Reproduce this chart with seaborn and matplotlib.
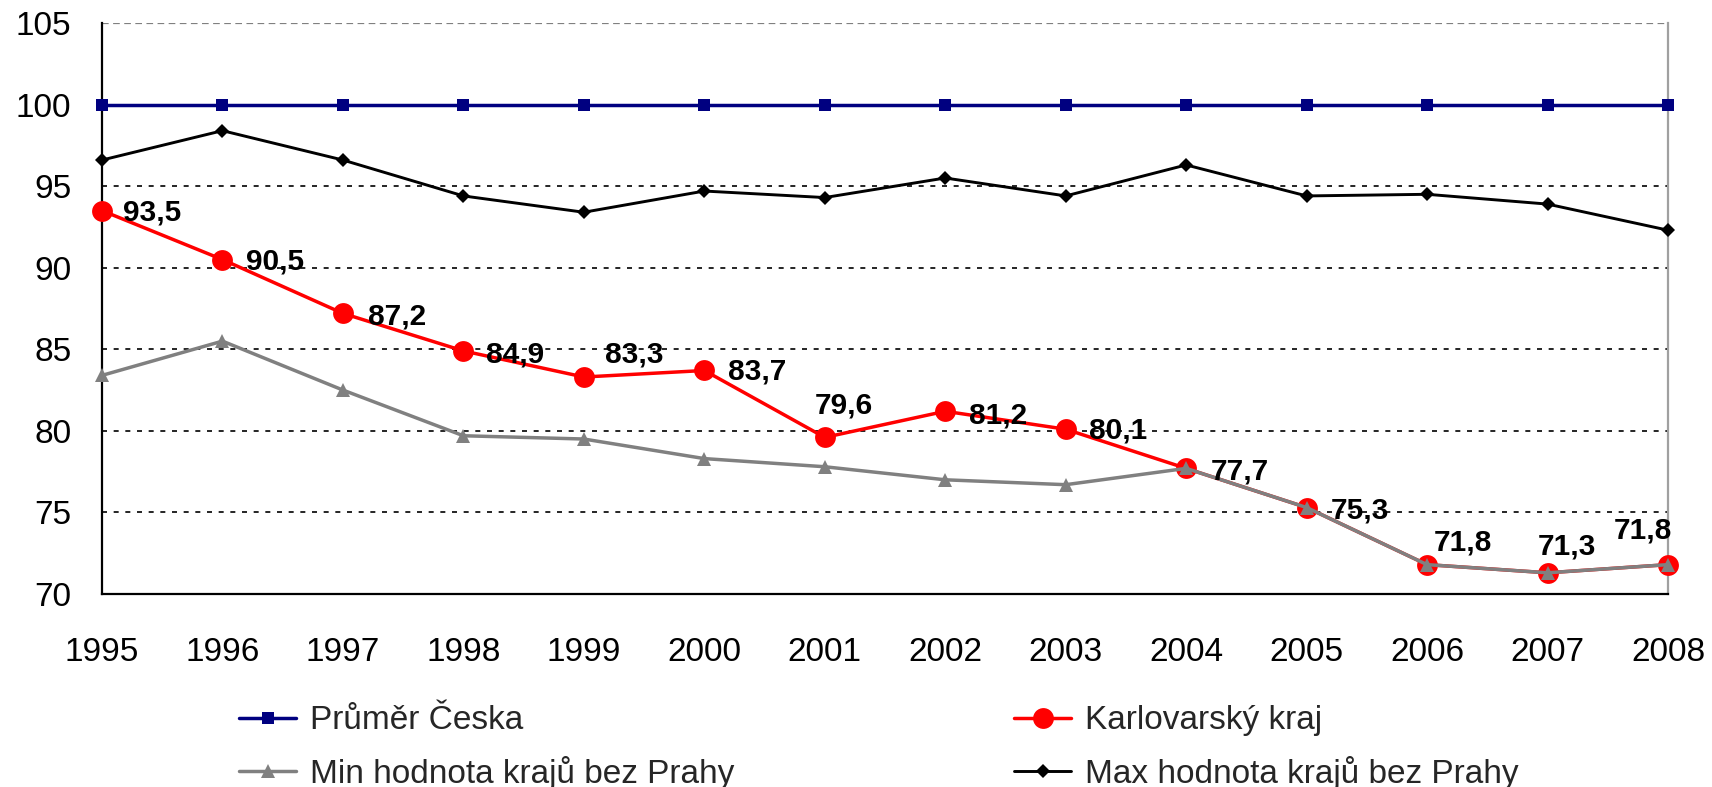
import pandas as pd
import matplotlib.pyplot as plt
import seaborn as sns

# data
years = [1995, 1996, 1997, 1998, 1999, 2000, 2001, 2002, 2003, 2004, 2005, 2006, 2007, 2008]
prumer = [100, 100, 100, 100, 100, 100, 100, 100, 100, 100, 100, 100, 100, 100]
karlovarsky = [93.5, 90.5, 87.2, 84.9, 83.3, 83.7, 79.6, 81.2, 80.1, 77.7, 75.3, 71.8, 71.3, 71.8]
min_kraj = [83.4, 85.5, 82.5, 79.7, 79.5, 78.3, 77.8, 77.0, 76.7, 77.7, 75.3, 71.8, 71.3, 71.8]
max_kraj = [96.6, 98.4, 96.6, 94.4, 93.4, 94.7, 94.3, 95.5, 94.4, 96.3, 94.4, 94.5, 93.9, 92.3]

names = ["Průměr Česka", "Karlovarský kraj", "Min hodnota krajů bez Prahy", "Max hodnota krajů bez Prahy"]

# label offsets in pixels (left edge / vertical centre of text relative to point)
label_offsets = [(21, -2), (24, -2), (25, -3), (23, -4), (21, 23), (24, -1), (-10, 32),
                 (24, -4), (23, -1), (25, -3), (24, -3), (7, 22), (-10, 26), (-54, 34)]

df = pd.DataFrame({"rok": years, names[0]: prumer, names[1]: karlovarsky,
                   names[2]: min_kraj, names[3]: max_kraj})

sns.set_style("white")
plt.rcParams['font.family'] = ['Liberation Sans', 'DejaVu Sans']

fig = plt.figure(figsize=(17.12, 7.87), dpi=100)
ax = fig.add_axes([102 / 1712, 1 - 594 / 787, (1668 - 102) / 1712, (594 - 23) / 787])

styles = {
    names[0]: dict(color="#000080", marker="s", markersize=8, lw=2.5),
    names[1]: dict(color="#FF0000", marker="o", markersize=15, lw=2.5),
    names[2]: dict(color="#808080", marker="^", markersize=10.5, lw=2.5),
    names[3]: dict(color="#000000", marker="D", markersize=7.5, lw=2.1),
}

for i, name in enumerate(names):
    st = styles[name]
    sns.lineplot(data=df, x="rok", y=name, ax=ax, color=st["color"], marker=st["marker"],
                 markersize=st["markersize"], markeredgewidth=0, linewidth=st["lw"],
                 label=name, clip_on=False, zorder=3 + i)

# data labels for Karlovarsky kraj
for x, y, (dx, dy) in zip(years, karlovarsky, label_offsets):
    ax.annotate(f"{y:.1f}".replace(".", ","), (x, y), xytext=(dx * 0.72, dy * 0.72),
                textcoords="offset points", ha="left", va="center",
                fontsize=21.5, fontweight="bold", color="black", zorder=10)

ax.set_xlim(1995, 2008)
ax.set_ylim(70, 105)
ax.set_xticks(years)
ax.set_yticks(range(70, 106, 5))
ax.set_xlabel("")
ax.set_ylabel("")
ax.tick_params(axis="both", labelsize=24, colors="black", direction="out")
ax.tick_params(axis="x", length=9, width=1.6, pad=22)
ax.tick_params(axis="y", length=9, width=1.6, pad=13)

for v in range(75, 105, 5):
    ax.axhline(v, color="black", lw=1.2, linestyle=(0, (3, 4)), zorder=1)
ax.axhline(105, color="#808080", lw=1.6, linestyle=(0, (3, 2)), zorder=1)

ax.spines["left"].set_color("black")
ax.spines["left"].set_linewidth(1.6)
ax.spines["bottom"].set_color("black")
ax.spines["bottom"].set_linewidth(1.6)
ax.spines["right"].set_color("#A0A0A0")
ax.spines["right"].set_linewidth(1.6)
ax.spines["top"].set_visible(False)

handles, labels = ax.get_legend_handles_labels()
order = [0, 2, 1, 3]
ax.legend([handles[i] for i in order], [labels[i] for i in order], ncol=2, frameon=False,
          fontsize=24, loc="upper left", bbox_to_anchor=(226 / 1712, 1 - 692 / 787),
          bbox_transform=fig.transFigure, handlelength=1.7, handletextpad=0.42,
          columnspacing=8.4, labelspacing=0.58, borderaxespad=0)

fig.savefig("out.png", dpi=100)
